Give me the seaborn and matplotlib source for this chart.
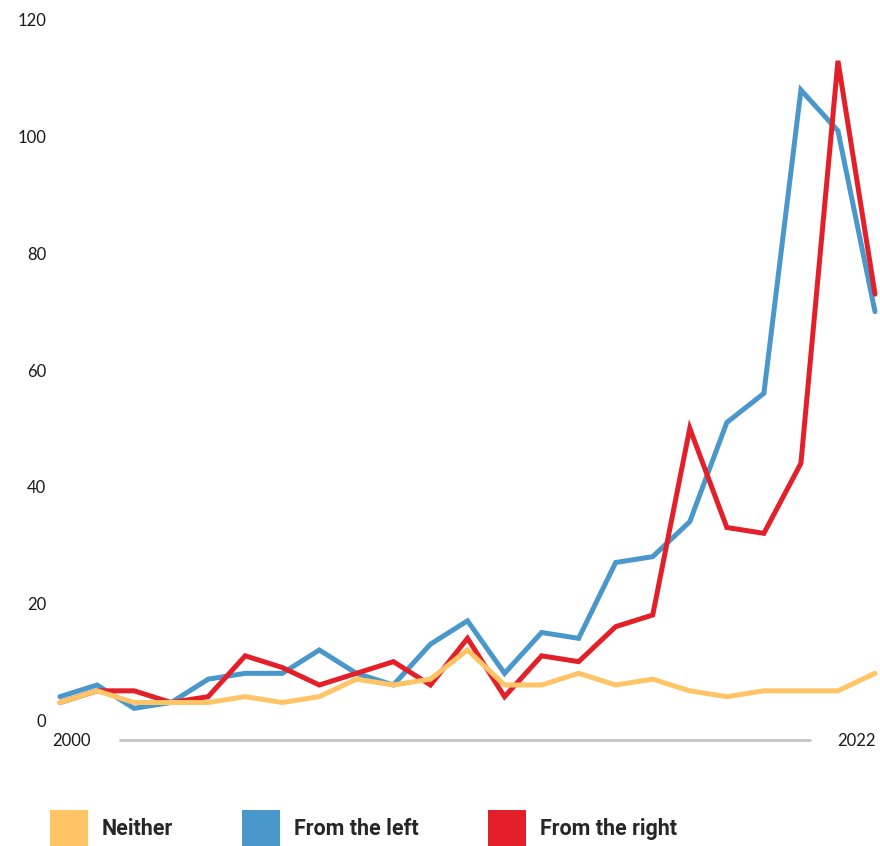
import matplotlib
matplotlib.use('Agg')
import matplotlib.pyplot as plt
from matplotlib.lines import Line2D
from matplotlib.patches import Patch
import pandas as pd
import seaborn as sns

years = list(range(2000, 2023))
neither = [3, 5, 3, 3, 3, 4, 3, 4, 7, 6, 7, 12, 6, 6, 8, 6, 7, 5, 4, 5, 5, 5, 8]
from_left = [4, 6, 2, 3, 7, 8, 8, 12, 8, 6, 13, 17, 8, 15, 14, 27, 28, 34, 51, 56, 108, 101, 70]
from_right = [3, 5, 5, 3, 4, 11, 9, 6, 8, 10, 6, 14, 4, 11, 10, 16, 18, 50, 33, 32, 44, 113, 73]
series_names = ['Neither', 'From the left', 'From the right']
colors = {'Neither': '#FEC465', 'From the left': '#4A98CB', 'From the right': '#E3202A'}
y_ticks = [0, 20, 40, 60, 80, 100, 120]

df = pd.DataFrame({'year': years, 'Neither': neither,
                   'From the left': from_left, 'From the right': from_right})
df = df.melt(id_vars='year', var_name='series', value_name='count')

W, H = 880, 846
sns.set_style('white')
plt.rcParams['font.family'] = ['Lato', 'DejaVu Sans']

fig = plt.figure(figsize=(W / 100, H / 100), dpi=100)
ax = fig.add_axes([60 / W, 1 - 720 / H, (875 - 60) / W, 700 / H])

sns.lineplot(data=df, x='year', y='count', hue='series', hue_order=series_names,
             palette=colors, linewidth=3.6, legend=False, ax=ax)
# blue below red, yellow on top
for line, z in zip(ax.lines, [4, 2, 3]):
    line.set_clip_on(False)
    line.set_solid_joinstyle('miter')
    line.set_zorder(z)

ax.set_xlim(2000, 2022)
ax.set_ylim(0, 120)
ax.set_yticks(y_ticks)
ax.set_yticklabels([str(t) for t in y_ticks], fontsize=12, color='#1a1a1a')
ax.set_xticks([])
ax.tick_params(axis='y', length=0, pad=10)
ax.set_xlabel('')
ax.set_ylabel('')
sns.despine(ax=ax, left=True, bottom=True)

# x-axis: gray rule with end labels
fig.add_artist(Line2D([120 / W, 810 / W], [1 - 740 / H] * 2, color='#C4C4C4', lw=2))
fig.text(52 / W, 1 - 741 / H, '2000', ha='left', va='center', fontsize=12, color='#1a1a1a')
fig.text(876 / W, 1 - 741 / H, '2022', ha='right', va='center', fontsize=12, color='#1a1a1a')

handles = [Patch(facecolor=colors[n], edgecolor='none') for n in series_names]
fig.legend(handles, series_names, loc='upper left', bbox_to_anchor=(50 / W, 1 - 810 / H),
           ncol=3, frameon=False, handlelength=1.77, handleheight=2.3,
           handletextpad=0.65, columnspacing=3.2, borderpad=0, borderaxespad=0,
           prop={'family': 'Roboto', 'weight': 'bold', 'size': 15.5})

fig.savefig('out.png', dpi=100)
